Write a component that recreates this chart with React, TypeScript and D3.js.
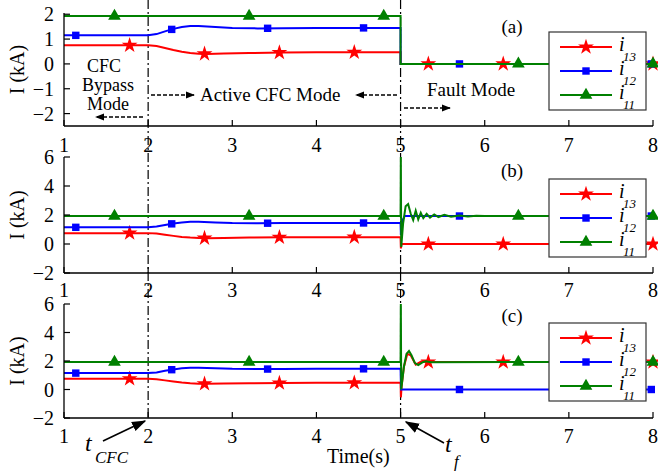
import React from "react";
import * as d3 from "d3";

type Pt = [number, number];

// time axis ticks (s)
const timeTicks = [1, 2, 3, 4, 5, 6, 7, 8];

// currents before the fault (same in all three cases)
const preI13: Pt[] = [[1, 0.75], [2, 0.75], [2.1, 0.72], [2.2, 0.64], [2.3, 0.56], [2.4, 0.49], [2.5, 0.44], [2.6, 0.41], [2.7, 0.4], [2.9, 0.42], [3.2, 0.44], [3.6, 0.46], [4, 0.47], [5, 0.47]];
const preI12: Pt[] = [[1, 1.15], [2, 1.15], [2.1, 1.2], [2.2, 1.31], [2.3, 1.41], [2.4, 1.49], [2.5, 1.53], [2.6, 1.53], [2.8, 1.49], [3, 1.45], [3.3, 1.43], [3.6, 1.44], [4, 1.45], [5, 1.45]];
const preI11: Pt[] = [[1, 1.93], [5, 1.93]];

// (a) fault mode
const postA13: Pt[] = [[5, 0], [8, 0]];
const postA12: Pt[] = [[5, 0], [8, 0]];
const postA11: Pt[] = [[5, 0], [8, 0]];

// (b)
const postB13: Pt[] = [[5.004, -0.3], [5.012, 0], [8, 0]];
const postB12: Pt[] = [[5.004, 0.6], [5.02, 1.6], [5.05, 1.93], [8, 1.93]];
const postB11: Pt[] = [[5.003, 6], [5.008, -0.2], [5.03, 1.4], [5.06, 2.6], [5.09, 2.75], [5.12, 2.1], [5.15, 1.65], [5.18, 2.3], [5.21, 1.7], [5.24, 2.15], [5.27, 1.78], [5.31, 2.08], [5.35, 1.82], [5.4, 2.04], [5.45, 1.86], [5.52, 2.01], [5.6, 1.88], [5.7, 1.97], [5.8, 1.9], [5.9, 1.95], [6, 1.93], [8, 1.93]];

// (c)
const postC13: Pt[] = [[5.004, -0.55], [5.012, 0.2], [5.04, 1.6], [5.08, 2.5], [5.12, 2.4], [5.18, 1.75], [5.25, 1.98], [5.32, 1.93], [8, 1.93]];
const postC12: Pt[] = [[5.006, 0], [8, 0]];
const postC11: Pt[] = [[5.003, 6], [5.008, 0], [5.04, 1.6], [5.07, 2.5], [5.1, 2.7], [5.13, 2.4], [5.17, 1.85], [5.21, 1.72], [5.26, 1.9], [5.3, 1.98], [5.36, 1.92], [8, 1.93]];

// marker positions along time
const starTimes = [1.78, 2.67, 3.56, 4.45, 5.33, 6.22, 7.11, 8.0];
const squareTimes = [1.14, 2.28, 3.42, 4.56, 5.7, 6.84, 7.98];
const triangleTimes = [1.6, 3.2, 4.8, 6.4, 8.0];

const FONT = "'Liberation Serif', 'Times New Roman', serif";

const series = [
  { key: "i13", color: "#ff0000", sym: d3.symbolStar, size: 78, times: starTimes },
  { key: "i12", color: "#0000ff", sym: d3.symbolSquare, size: 55, times: squareTimes },
  { key: "i11", color: "#008000", sym: d3.symbolTriangle, size: 70, times: triangleTimes },
];

const panels = [
  { name: "(a)", domain: [-2.5, 2.05], range: [126, 13], ticks: [-2, -1, 0, 1, 2], labY: 152, legTop: 32, tagY: 33, data: [preI13.concat(postA13), preI12.concat(postA12), preI11.concat(postA11)] },
  { name: "(b)", domain: [-2, 6], range: [273, 157], ticks: [-2, 0, 2, 4, 6], labY: 297, legTop: 179, tagY: 177, data: [preI13.concat(postB13), preI12.concat(postB12), preI11.concat(postB11)] },
  { name: "(c)", domain: [-2, 6], range: [418, 304], ticks: [-2, 0, 2, 4, 6], labY: 443, legTop: 323, tagY: 322, data: [preI13.concat(postC13), preI12.concat(postC12), preI11.concat(postC11)] },
];

function valueAt(pts: Pt[], t: number) {
  for (let i = 1; i < pts.length; i++) {
    const [t0, v0] = pts[i - 1];
    const [t1, v1] = pts[i];
    if (t >= t0 && t <= t1 && t1 > t0) return v0 + ((t - t0) / (t1 - t0)) * (v1 - v0);
  }
  return pts[pts.length - 1][1];
}

const fmt = (v: number) => (v < 0 ? "\u2212" + Math.abs(v) : String(v));

export default function App() {
  const x = d3.scaleLinear().domain([1, 8]).range([64, 653]);
  const x0 = x(1);

  return (
    <svg width={658} height={472} style={{ position: "absolute", left: 0, top: 0, background: "#fff" }} fontFamily={FONT}>
      <defs>
        <marker id="head" viewBox="0 0 10 10" refX="9" refY="5" markerWidth="7" markerHeight="7" orient="auto">
          <path d="M0,1 L10,5 L0,9 Z" fill="#000" />
        </marker>
        <marker id="head2" viewBox="0 0 10 10" refX="9" refY="5" markerWidth="9" markerHeight="9" orient="auto">
          <path d="M0,1.5 L10,5 L0,8.5 Z" fill="#000" />
        </marker>
      </defs>
      <rect width={658} height={472} fill="#fff" />

      {/* vertical marks for t_CFC and t_f */}
      {[2, 5].map((t) => (
        <line key={t} x1={x(t)} x2={x(t)} y1={0} y2={418} stroke="#000" strokeWidth={1.2} strokeDasharray="9,3,2,3" />
      ))}

      {panels.map((p) => {
        const y = d3.scaleLinear().domain(p.domain).range(p.range);
        const line = d3.line<Pt>().x((d) => x(d[0])).y((d) => y(d[1]));
        const bottom = p.range[0];
        const top = p.range[1];
        return (
          <g key={p.name}>
            {series.map((s, i) => {
              const pts = p.data[i];
              const sym = d3.symbol(s.sym, s.size)();
              return (
                <g key={s.key}>
                  <path d={line(pts) || ""} fill="none" stroke={s.color} strokeWidth={2} />
                  {s.times.map((t) => (
                    <path key={t} d={sym || ""} transform={`translate(${x(t)},${y(valueAt(pts, t))})`} fill={s.color} />
                  ))}
                </g>
              );
            })}

            {/* axes */}
            <line x1={x0} x2={x0} y1={top} y2={bottom} stroke="#000" strokeWidth={1.3} />
            <line x1={x0} x2={x(8)} y1={bottom} y2={bottom} stroke="#000" strokeWidth={1.3} />
            {p.ticks.map((v) => (
              <g key={v}>
                <line x1={x0} x2={x0 + 6} y1={y(v)} y2={y(v)} stroke="#000" strokeWidth={1.2} />
                <text x={54} y={y(v)} dy="0.35em" textAnchor="end" fontSize={20}>{fmt(v)}</text>
              </g>
            ))}
            {timeTicks.map((t) => (
              <g key={t}>
                <line x1={x(t)} x2={x(t)} y1={bottom} y2={bottom - 6} stroke="#000" strokeWidth={1.2} />
                <text x={x(t)} y={p.labY} textAnchor="middle" fontSize={20}>{t}</text>
              </g>
            ))}
            <text transform={`translate(24,${(top + bottom) / 2}) rotate(-90)`} textAnchor="middle" fontSize={20}>I (kA)</text>
            <text x={512} y={p.tagY} textAnchor="middle" fontSize={19}>{p.name}</text>

            {/* legend */}
            <g transform={`translate(549,${p.legTop})`}>
              <rect x={0} y={0} width={97} height={78} fill="#fff" stroke="#333" strokeWidth={1.2} />
              {series.map((s, i) => {
                const ly = 15 + i * 24;
                return (
                  <g key={s.key}>
                    <line x1={11} x2={63} y1={ly} y2={ly} stroke={s.color} strokeWidth={2} />
                    <path d={d3.symbol(s.sym, s.size)() || ""} transform={`translate(37,${ly})`} fill={s.color} />
                    <text x={70} y={ly + 4} fontSize={20} fontStyle="italic">i</text>
                    <text x={74} y={ly + 14} fontSize={13} fontStyle="italic">{s.key.slice(1)}</text>
                  </g>
                );
              })}
            </g>
          </g>
        );
      })}

      {/* mode annotations in (a) */}
      <g fontSize={18}>
        <text x={104} y={72} textAnchor="middle">CFC</text>
        <text x={108} y={91} textAnchor="middle">Bypass</text>
        <text x={108} y={110} textAnchor="middle">Mode</text>
        <text x={200} y={101} fontSize={19}>Active CFC Mode</text>
        <text x={427} y={96} fontSize={19}>Fault Mode</text>
      </g>
      <g stroke="#000" strokeWidth={1.3} strokeDasharray="4,2" markerEnd="url(#head)">
        <line x1={143} y1={117} x2={96} y2={117} />
        <line x1={151} y1={95} x2={194} y2={95} />
        <line x1={397} y1={95} x2={356} y2={95} />
        <line x1={404} y1={108} x2={450} y2={108} />
      </g>

      {/* bottom annotations */}
      <line x1={103} y1={441} x2={145} y2={421} stroke="#000" strokeWidth={1.6} markerEnd="url(#head2)" />
      <line x1={444} y1={443} x2={406} y2={422} stroke="#000" strokeWidth={1.6} markerEnd="url(#head2)" />
      <text x={85} y={451} fontSize={24} fontStyle="italic">t</text>
      <text x={95} y={463} fontSize={17} fontStyle="italic">CFC</text>
      <text x={445} y={452} fontSize={24} fontStyle="italic">t</text>
      <text x={454} y={467} fontSize={17} fontStyle="italic">f</text>
      <text x={327} y={463} fontSize={20}>Time(s)</text>
    </svg>
  );
}
